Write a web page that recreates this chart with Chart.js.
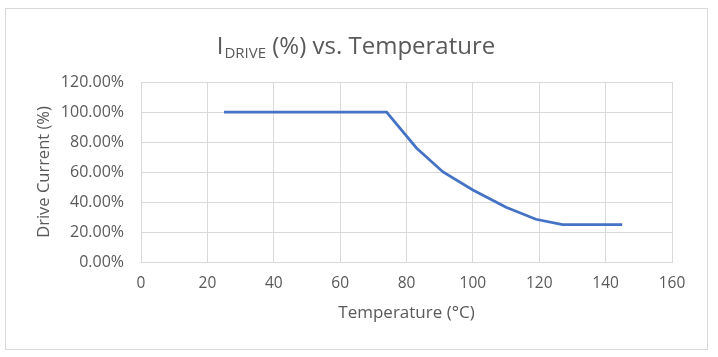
<!DOCTYPE html>
<html>
<head>
<meta charset="utf-8">
<script src="https://cdn.jsdelivr.net/npm/chart.js@4.4.1/dist/chart.umd.min.js"></script>
<style>
  html, body { margin: 0; padding: 0; background: #ffffff; }
  #wrap { width: 718px; height: 357px; position: relative; }
</style>
</head>
<body>
<div id="wrap"><canvas id="c" width="718" height="357"></canvas></div>
<script>
const temperatures = [25, 74, 83, 91, 100, 110, 119, 127, 145];
const driveCurrent = [100, 100, 76, 60, 48, 36.5, 28.5, 25, 25];
const titleMain = "I";
const titleSub = "DRIVE";
const titleRest = " (%) vs. Temperature";
const xAxisTitle = "Temperature (\u00B0C)";
const yAxisTitle = "Drive Current (%)";

const FONT = "'Open Sans', 'Noto Sans', sans-serif";
const TXT = "#595959";
const GRID = "#d9d9d9";

const framePlugin = {
  id: 'frame',
  beforeDraw(chart) {
    const ctx = chart.ctx;
    ctx.save();
    ctx.fillStyle = '#ffffff';
    ctx.fillRect(0, 0, chart.width, chart.height);
    ctx.strokeStyle = GRID;
    ctx.lineWidth = 1;
    ctx.strokeRect(5.5, 8.5, 702, 341);
    ctx.restore();
  },
  afterDraw(chart) {
    const ctx = chart.ctx;
    ctx.save();
    ctx.fillStyle = TXT;
    ctx.textBaseline = 'alphabetic';
    ctx.textAlign = 'left';
    const big = "24px " + FONT;
    const small = "15px " + FONT;
    ctx.font = big;
    const w1 = ctx.measureText(titleMain).width;
    const w3 = ctx.measureText(titleRest).width;
    ctx.font = small;
    const w2 = ctx.measureText(titleSub).width;
    const total = w1 + 1 + w2 + w3;
    let x = 356 - total / 2;
    const base = 54;
    ctx.font = big;
    ctx.fillText(titleMain, x, base);
    x += w1 + 1;
    ctx.font = small;
    ctx.fillText(titleSub, x, base + 4);
    x += w2;
    ctx.font = big;
    ctx.fillText(titleRest, x, base);
    ctx.restore();
  }
};

new Chart(document.getElementById('c'), {
  type: 'scatter',
  data: {
    datasets: [{
      data: temperatures.map((t, i) => ({ x: t, y: driveCurrent[i] })),
      showLine: true,
      borderColor: '#4472C4',
      backgroundColor: '#4472C4',
      borderWidth: 2.75,
      pointRadius: 0,
      pointHoverRadius: 0,
      tension: 0,
      fill: false
    }]
  },
  options: {
    responsive: false,
    animation: false,
    events: [],
    layout: { padding: { top: 82, right: 46, bottom: 25, left: 0 } },
    plugins: {
      legend: { display: false },
      title: { display: false },
      tooltip: { enabled: false }
    },
    scales: {
      x: {
        type: 'linear',
        min: 0, max: 160,
        afterFit(s) { s.height = 70; },
        ticks: { stepSize: 20, color: TXT, font: { family: FONT, size: 15.5 }, padding: 12, maxRotation: 0 },
        grid: { color: GRID, lineWidth: 1, drawTicks: false },
        border: { color: GRID, width: 1 },
        title: { display: true, text: xAxisTitle, color: TXT, font: { family: FONT, size: 17 }, padding: { top: 0, bottom: 9 } }
      },
      y: {
        min: 0, max: 120,
        afterFit(s) { s.width = 141; },
        ticks: {
          stepSize: 20, color: TXT, font: { family: FONT, size: 16 }, padding: 17,
          callback: v => v.toFixed(2) + '%'
        },
        grid: { color: GRID, lineWidth: 1, drawTicks: false },
        border: { color: GRID, width: 1 },
        title: { display: true, text: yAxisTitle, color: TXT, font: { family: FONT, size: 16.5 }, padding: { top: 34, bottom: 0 } }
      }
    }
  },
  plugins: [framePlugin]
});
</script>
</body>
</html>
